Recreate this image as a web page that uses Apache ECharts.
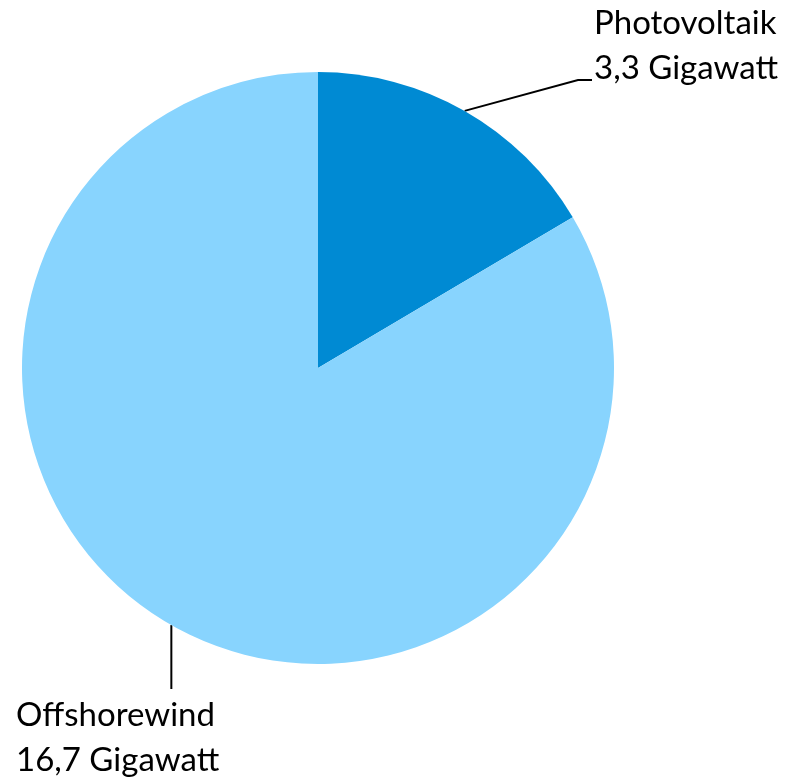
<!DOCTYPE html>
<html>
<head>
<meta charset="utf-8">
<script src="https://cdn.jsdelivr.net/npm/echarts@6/dist/echarts.min.js"></script>
<style>
    html, body { margin: 0; padding: 0; background: #fff; }
    #chart { width: 793px; height: 779px; }
</style>
</head>
<body>
<div id="chart"></div>
<script>
// Installierte Leistung (Gigawatt)
var names = ['Photovoltaik', 'Offshorewind'];
var values = [3.3, 16.7];
var colors = ['#008ad3', '#88d4fe'];

var chart = echarts.init(document.getElementById('chart'));

var data = names.map(function(name, i) {
    return { name: name, value: values[i], itemStyle: { color: colors[i] } };
});

// Label-Positionen wie im Original (nicht Standard-Layout)
var labelSpots = [
    { x: 594, y: 46, bend: [578, 80], end: [592, 80] },
    { x: 16, y: 738, bend: null, end: null }
];

var option = {
    animation: false,
    series: [{
        type: 'pie',
        center: [318, 368],
        radius: 296,
        startAngle: 90,
        clockwise: true,
        data: data,
        label: {
            show: true,
            position: 'outside',
            fontFamily: 'Lato',
            fontSize: 33,
            lineHeight: 45,
            color: '#000',
            overflow: 'none',
            width: 400,
            formatter: function(p) {
                return p.name + '\n' + String(p.value).replace('.', ',') + ' Gigawatt';
            }
        },
        labelLine: {
            show: true,
            lineStyle: { color: '#000', width: 2 }
        },
        labelLayout: function(params) {
            var spot = labelSpots[params.dataIndex];
            var start = params.labelLinePoints[0];
            var pts;
            if (spot.bend) {
                pts = [start, spot.bend, spot.end];
            } else {
                // senkrecht nach unten
                pts = [start, [start[0], 689]];
            }
            return {
                x: spot.x,
                y: spot.y,
                align: 'left',
                verticalAlign: 'middle',
                labelLinePoints: pts
            };
        }
    }]
};

chart.setOption(option);
</script>
</body>
</html>
